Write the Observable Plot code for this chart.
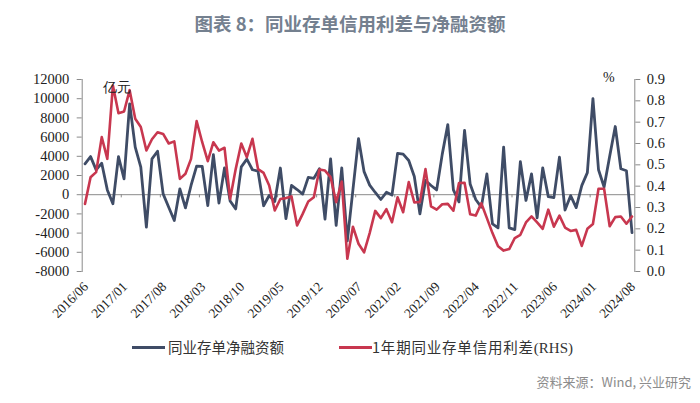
<!DOCTYPE html>
<html><head><meta charset="utf-8">
<script src="https://cdn.jsdelivr.net/npm/d3@7"></script>
<script src="https://cdn.jsdelivr.net/npm/@observablehq/plot@0.6"></script>
<style>
body{margin:0;background:#fff;width:700px;height:403px;position:relative;overflow:hidden;font-family:"Noto Sans CJK SC",sans-serif;}
#title{position:absolute;top:10px;left:0;width:700px;text-align:center;font-size:18.5px;line-height:26px;color:#74808f;font-weight:bold;}
#chart{position:absolute;top:50px;left:0;}
.unit{position:absolute;font-family:"Liberation Serif",serif;font-size:14px;color:#222;}
#legend{position:absolute;top:337px;left:0;width:700px;height:20px;font-size:14.5px;color:#333;}
.sw{position:absolute;top:9px;height:3px;width:33px;}
.lt{position:absolute;top:0;line-height:20px;white-space:nowrap;}
#source{position:absolute;right:9px;top:372px;font-size:13px;color:#8c8c8c;}
</style></head><body>
<div id="title">图表 8：同业存单信用利差与净融资额</div>
<div id="chart"></div>
<div class="unit" style="left:103px;top:79px;">亿元</div>
<div class="unit" style="left:603px;top:70px;">%</div>
<div id="legend">
  <div class="sw" style="left:132px;background:#3f4c66;"></div>
  <div class="lt" style="left:168px;">同业存单净融资额</div>
  <div class="sw" style="left:339px;background:#c8374f;"></div>
  <div class="lt" style="left:372px;letter-spacing:0.8px;">1年期同业存单信用利差<span style="font-family:'Liberation Serif',serif;font-size:15px;letter-spacing:0">(RHS)</span></div>
</div>
<div id="source">资料来源：Wind, 兴业研究</div>
<script>
// 同业存单净融资额（亿元），2016/06 – 2024/08 monthly
const netFinancing = [
  3220, 3970, 2590, 3280, 500, -950, 3970, 1650, 9470, 4950,
  2870, -3380, 3730, 4530, 90, -1300, -2680, 610, -1370, 960,
  2970, 2940, -1130, 4180, -880, 2800, -650, -1480, 2900, 3700,
  2600, 2450, -1150, -80, -700, 2780, -2500, 960, 540, 60,
  1800, 1700, 2700, -2550, 3740, -3200, 2800, -4800, 500, 5850,
  2400, 1000, 230, -500, 250, -40, 4300, 4220, 3560, 1900,
  -2000, 1480, 960, 500, 4200, 7300, 500, -750, 6700, 1120,
  -500, -1300, 2170, -3040, -3450, 4950, -3450, -3640, 3450, -600,
  2170, -2400, 2800, -200, -300, 3900, -1600, -100, -1350, 950,
  2300, 10000, 2600, 800, 4000, 7100, 2700, 2500, -3950
];
// 1年期同业存单信用利差（%，右轴）
const creditSpread = [
  0.317, 0.442, 0.466, 0.630, 0.528, 0.872, 0.742, 0.750, 0.850, 0.716,
  0.677, 0.567, 0.620, 0.653, 0.645, 0.600, 0.610, 0.434, 0.458, 0.528,
  0.705, 0.606, 0.517, 0.606, 0.567, 0.580, 0.340, 0.480, 0.600, 0.536,
  0.622, 0.480, 0.462, 0.403, 0.286, 0.340, 0.344, 0.352, 0.216, 0.270,
  0.328, 0.348, 0.478, 0.473, 0.442, 0.325, 0.422, 0.060, 0.210, 0.130,
  0.090, 0.180, 0.284, 0.250, 0.292, 0.231, 0.348, 0.278, 0.419, 0.324,
  0.326, 0.480, 0.305, 0.290, 0.315, 0.317, 0.285, 0.415, 0.416, 0.268,
  0.262, 0.320, 0.250, 0.180, 0.118, 0.098, 0.105, 0.157, 0.172, 0.230,
  0.258, 0.230, 0.200, 0.290, 0.210, 0.262, 0.206, 0.190, 0.195, 0.120,
  0.200, 0.223, 0.388, 0.388, 0.212, 0.255, 0.258, 0.224, 0.258
];
const tickLabels = ["2016/06","2017/01","2017/08","2018/03","2018/10","2019/05","2019/12",
  "2020/07","2021/02","2021/09","2022/04","2022/11","2023/06","2024/01","2024/08"];
const leftTicks = [-8000,-6000,-4000,-2000,0,2000,4000,6000,8000,10000,12000];
const rightTicks = [0,0.1,0.2,0.3,0.4,0.5,0.6,0.7,0.8,0.9];

const months = d3.utcMonths(new Date(Date.UTC(2016,5,1)), new Date(Date.UTC(2024,8,1))).map(d3.utcFormat("%Y/%m"));
const LMIN = -8000, LMAX = 12000, RMAX = 0.9;
const toLeft = v => LMIN + v / RMAX * (LMAX - LMIN);
const fromLeft = d => (d - LMIN) / (LMAX - LMIN) * RMAX;
const rows = months.map((m, i) => ({month: m, net: netFinancing[i], spread: creditSpread[i]}));

const W = 700, H = 290, mL = 81.7, mR = 65.7, mT = 29, mB = 69;
const step = (W - mL - mR) / months.length;
const blue = "#3f4c66", red = "#c8374f", axisCol = "#8a8a8a";

const chart = Plot.plot({
  width: W, height: H, marginLeft: mL, marginRight: mR, marginTop: mT, marginBottom: mB,
  style: {fontFamily: '"Liberation Serif", serif', fontSize: "14px", color: "#222", background: "transparent", overflow: "visible"},
  x: {type: "point", domain: months, padding: 0.5, label: null},
  y: {domain: [LMIN, LMAX], label: null},
  marks: [
    Plot.frame({anchor: "left", stroke: axisCol}),
    Plot.frame({anchor: "right", stroke: axisCol}),
    Plot.ruleY([0], {stroke: axisCol, strokeWidth: 1}),
    Plot.ruleX(tickLabels.slice(1), {x: d => d, y1: 0, y2: -330, dx: -step / 2, stroke: axisCol}),
    Plot.line(rows, {x: "month", y: "net", stroke: blue, strokeWidth: 2.8, curve: "linear"}),
    Plot.line(rows, {x: "month", y: d => toLeft(d.spread), stroke: red, strokeWidth: 2.6, curve: "linear"}),
    Plot.axisY(leftTicks, {anchor: "left", label: null, tickSize: 5, tickPadding: 8, stroke: axisCol, tickFormat: d => String(d), fontSize: 14.5}),
    Plot.axisY(rightTicks.map(toLeft), {anchor: "right", label: null, tickSize: 5, tickPadding: 7, stroke: axisCol, tickFormat: d => fromLeft(d).toFixed(1), fontSize: 14.5}),
    Plot.axisX(tickLabels, {anchor: "bottom", label: null, tickSize: 0, tickPadding: 13, tickRotate: -45, textAnchor: "end", dx: 1, fontSize: 13.5})
  ]
});
document.getElementById("chart").appendChild(chart);
</script>
</body></html>
